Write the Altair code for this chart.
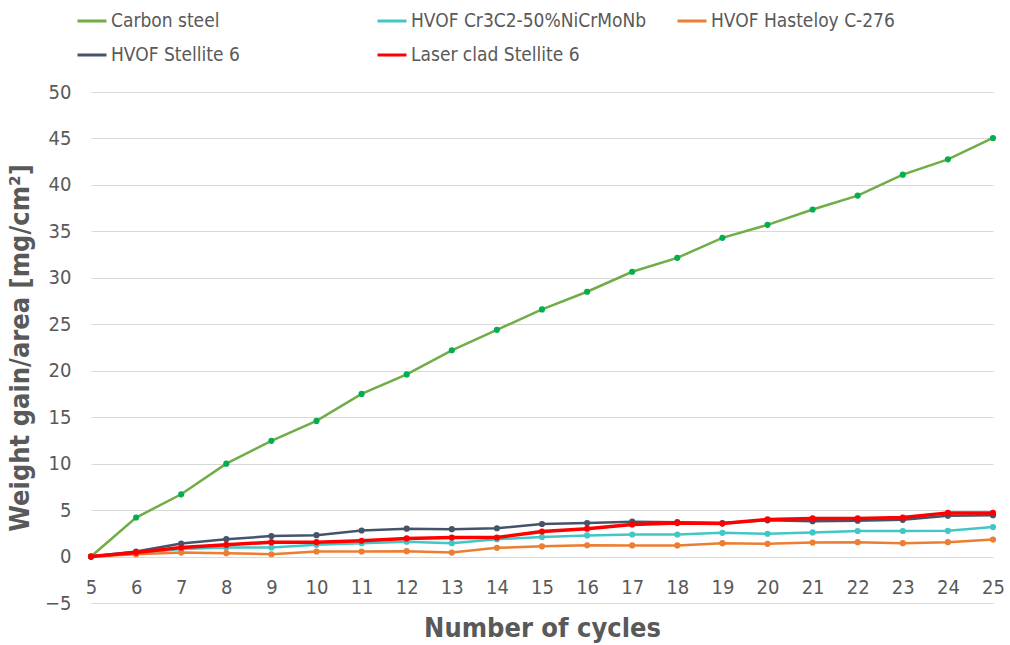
import altair as alt
import pandas as pd

cycles = [5, 6, 7, 8, 9, 10, 11, 12, 13, 14, 15, 16, 17, 18, 19, 20, 21, 22, 23, 24, 25]

carbon_steel = [0, 4.2, 6.7, 10.0, 12.45, 14.6, 17.5, 19.6, 22.2, 24.4, 26.6, 28.5,
                30.65, 32.15, 34.3, 35.7, 37.35, 38.85, 41.1, 42.75, 45.05]
hvof_cr3c2 = [0, 0.36, 0.8, 0.97, 0.97, 1.26, 1.44, 1.6, 1.44, 1.87, 2.1, 2.27,
              2.37, 2.37, 2.55, 2.45, 2.6, 2.75, 2.75, 2.77, 3.17]
hvof_hastelloy = [0, 0.25, 0.43, 0.36, 0.25, 0.54, 0.54, 0.58, 0.43, 0.94, 1.1, 1.22,
                  1.2, 1.2, 1.44, 1.37, 1.5, 1.55, 1.44, 1.55, 1.83]
hvof_stellite = [0, 0.54, 1.4, 1.87, 2.2, 2.3, 2.8, 3.0, 2.95, 3.05, 3.5, 3.6,
                 3.75, 3.7, 3.6, 3.9, 3.8, 3.85, 3.95, 4.4, 4.45]
laser_stellite = [0, 0.43, 0.97, 1.26, 1.55, 1.55, 1.7, 1.95, 2.05, 2.05, 2.7, 3.0,
                  3.45, 3.6, 3.55, 4.0, 4.1, 4.1, 4.2, 4.7, 4.7]

series_names = ["Carbon steel", "HVOF Cr3C2-50%NiCrMoNb", "HVOF Hasteloy C-276",
                "HVOF Stellite 6", "Laser clad Stellite 6"]
series_values = [carbon_steel, hvof_cr3c2, hvof_hastelloy, hvof_stellite, laser_stellite]
line_colors = ["#70AD47", "#43C6C6", "#ED7D31", "#44546A", "#FF0000"]
marker_colors = ["#00B050", "#43C6C6", "#ED7D31", "#44546A", "#FF0000"]
line_widths = [2.5, 2.5, 2.5, 2.5, 3.5]

rows = []
for name, vals in zip(series_names, series_values):
    for c, v in zip(cycles, vals):
        rows.append({"series": name, "cycle": c, "value": v})
df = pd.DataFrame(rows)

FONT = "DejaVu Sans Condensed, DejaVu Sans, sans-serif"
GREY = "#595959"

x_enc = alt.X(
    "cycle:Q",
    scale=alt.Scale(domain=[5, 25], nice=False, zero=False),
    axis=alt.Axis(
        values=cycles, title="Number of cycles", grid=False, domain=False,
        ticks=False, offset=-26, labelPadding=0, labelFontSize=20,
        labelColor=GREY, labelFont=FONT, titleFont=FONT, titleFontSize=27,
        titleFontWeight="bold", titleColor=GREY, titlePadding=18,
        labelFlush=False,
    ),
)
y_enc = alt.Y(
    "value:Q",
    scale=alt.Scale(domain=[-5, 50], nice=False, zero=False),
    axis=alt.Axis(
        values=[-5, 0, 5, 10, 15, 20, 25, 30, 35, 40, 45, 50],
        title="Weight gain/area [mg/cm²]", grid=True, gridColor="#D9D9D9",
        domain=False, ticks=False, labelPadding=20, labelFontSize=20,
        labelColor=GREY, labelFont=FONT, titleFont=FONT, titleFontSize=27,
        titleFontWeight="bold", titleColor=GREY, titlePadding=10,
    ),
)

color_scale = alt.Scale(domain=series_names, range=line_colors)
legend = alt.Legend(
    title=None, orient="none", legendX=-15, legendY=-87, columns=3,
    direction="horizontal", gridAlign="all", symbolType="stroke",
    symbolStrokeWidth=3, symbolSize=840, labelFont=FONT, labelFontSize=19,
    labelColor=GREY, rowPadding=8, columnPadding=24, labelOffset=3,
    labelLimit=400,
)

layers = []
for i, name in enumerate(series_names):
    base = alt.Chart(df).transform_filter(alt.datum.series == name)
    line = base.mark_line(strokeWidth=line_widths[i]).encode(
        x=x_enc, y=y_enc,
        color=alt.Color("series:N", scale=color_scale, legend=legend),
    )
    pts = base.mark_circle(size=38, opacity=1, color=marker_colors[i]).encode(
        x=x_enc, y=y_enc,
    )
    layers += [line, pts]

chart = alt.layer(*layers).properties(
    width=902, height=511,
    autosize=alt.AutoSizeParams(type="none"),
    padding={"left": 91, "top": 92, "right": 17, "bottom": 42},
    background="white",
).configure_view(stroke=None)

chart.save("out.html", embed_options={"renderer": "svg", "actions": False})
